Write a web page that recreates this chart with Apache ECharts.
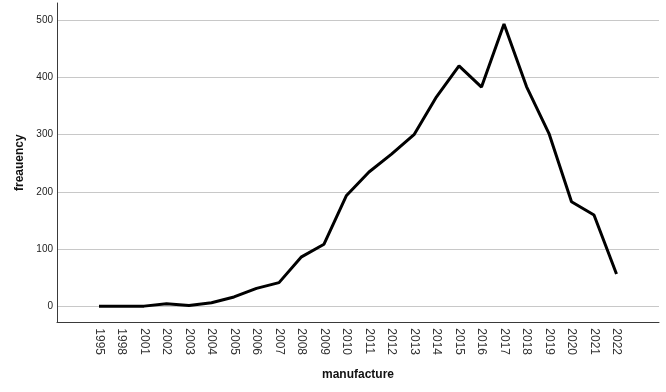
<!DOCTYPE html>
<html>
<head>
<meta charset="utf-8">
<script src="https://cdn.jsdelivr.net/npm/echarts@6/dist/echarts.min.js"></script>
<style>
html,body{margin:0;padding:0;background:#fff;}
#c{width:666px;height:392px;}
</style>
</head>
<body>
<div id="c"></div>
<script>
const categories = ['1995','1998','2001','2002','2003','2004','2005','2006','2007','2008','2009','2010','2011','2012','2013','2014','2015','2016','2017','2018','2019','2020','2021','2022'];
const frequency = [1,1,1,5,2,7,17,32,42,87,109,194,235,266,300,366,420,383,493,384,302,183,160,57];
const yTicks = [0,100,200,300,400,500];
const xTitle = 'manufacture';
const yTitle = 'freauency';

const chart = echarts.init(document.getElementById('c'), null, {renderer:'canvas'});
const font = 'Liberation Sans, Arial, sans-serif';
chart.setOption({
  animation: false,
  backgroundColor: '#ffffff',
  grid: {left: 57, right: 7, top: 3, bottom: 69.7},
  xAxis: {
    type: 'value',
    min: -1.867,
    max: 24.889,
    name: xTitle,
    nameLocation: 'middle',
    nameGap: 46,
    nameTextStyle: {fontFamily: font, fontSize: 12, fontWeight: 'bold', color: '#111'},
    axisLine: {show: true, onZero: false, lineStyle: {color: '#3a3a3a', width: 1}},
    axisTick: {show: false},
    splitLine: {show: false},
    axisLabel: {
      customValues: categories.map((_, i) => i),
      formatter: v => categories[Math.round(v)],
      rotate: -90,
      margin: 6,
      fontFamily: font,
      fontSize: 12,
      color: '#333'
    }
  },
  yAxis: {
    type: 'value',
    min: -27.2,
    max: 529.7,
    name: yTitle,
    nameLocation: 'middle',
    nameGap: 29,
    nameTextStyle: {fontFamily: font, fontSize: 12, fontWeight: 'bold', color: '#111'},
    axisLine: {show: true, onZero: false, lineStyle: {color: '#3a3a3a', width: 1}},
    axisTick: {show: false, customValues: yTicks},
    axisLabel: {
      customValues: yTicks,
      margin: 4,
      fontFamily: font,
      fontSize: 10,
      color: '#222'
    },
    splitLine: {show: true, lineStyle: {color: '#c8c8c8', width: 1}}
  },
  series: [{
    type: 'line',
    data: frequency.map((v, i) => [i, v]),
    symbol: 'none',
    lineStyle: {color: '#000', width: 3},
    z: 5
  }]
});
</script>
</body>
</html>
